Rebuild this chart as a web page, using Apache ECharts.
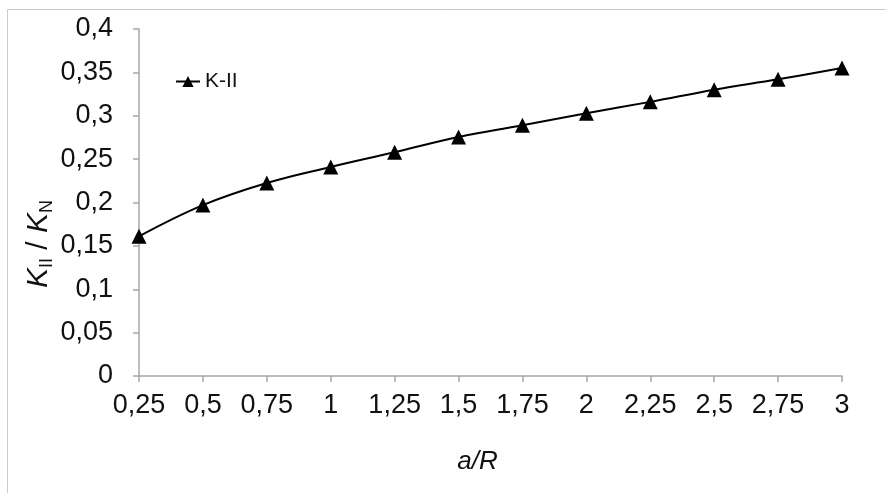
<!DOCTYPE html>
<html>
<head>
<meta charset="utf-8">
<script src="https://cdn.jsdelivr.net/npm/echarts@6/dist/echarts.min.js"></script>
<style>
html,body{margin:0;padding:0;background:#fff;}
#chart{width:886px;height:493px;}
</style>
</head>
<body>
<div id="chart"></div>
<script>
var categories = [0.25, 0.5, 0.75, 1, 1.25, 1.5, 1.75, 2, 2.25, 2.5, 2.75, 3];
var xLabels = ['0,25', '0,5', '0,75', '1', '1,25', '1,5', '1,75', '2', '2,25', '2,5', '2,75', '3'];
var kII = [0.161, 0.197, 0.2225, 0.241, 0.258, 0.2755, 0.289, 0.303, 0.316, 0.330, 0.342, 0.355];
var yTicks = [0, 0.05, 0.1, 0.15, 0.2, 0.25, 0.3, 0.35, 0.4];
var seriesName = 'K-II';

var FONT = 'Liberation Sans, Arial, sans-serif';
var chart = echarts.init(document.getElementById('chart'));
chart.setOption({
  backgroundColor: '#fff',
  animation: false,
  grid: { left: 139, right: 44, top: 29, bottom: 117 },
  legend: {
    left: 170, top: 66,
    itemWidth: 24, itemHeight: 14, itemGap: 4,
    textStyle: { fontFamily: FONT, fontSize: 21, color: '#111' },
    data: [seriesName]
  },
  xAxis: {
    type: 'category',
    boundaryGap: false,
    data: xLabels,
    axisLine: { lineStyle: { color: '#a6a6a6', width: 1.5 } },
    axisTick: { show: true, length: 6, lineStyle: { color: '#a6a6a6', width: 1.5 } },
    axisLabel: { fontFamily: FONT, fontSize: 27, color: '#111', margin: 16, interval: 0 },
    splitLine: { show: false },
    name: 'a/R',
    nameLocation: 'middle',
    nameGap: 73,
    nameTextStyle: { fontFamily: FONT, fontSize: 26, fontStyle: 'italic', color: '#111', padding: [0, 26, 0, 0] }
  },
  yAxis: {
    type: 'value',
    min: yTicks[0], max: yTicks[yTicks.length - 1], interval: 0.05,
    axisLine: { show: true, lineStyle: { color: '#a6a6a6', width: 1.5 } },
    axisTick: { show: true, length: 6, lineStyle: { color: '#a6a6a6', width: 1.5 } },
    axisLabel: {
      fontFamily: FONT, fontSize: 27, color: '#111', margin: 26,
      formatter: function (v) { return String(Math.round(v * 100) / 100).replace('.', ','); }
    },
    splitLine: { show: false }
  },
  graphic: [
    {
      type: 'rect', left: 5, top: 7, silent: true,
      shape: { width: 900, height: 520 },
      style: { fill: 'none', stroke: '#cccccc', lineWidth: 1 }
    },
    {
      type: 'text',
      x: 39, y: 244,
      rotation: Math.PI / 2,
      style: {
        text: '{k|K}{s|II}{n| / }{k|K}{s|N}',
        fontFamily: FONT,
        align: 'center', verticalAlign: 'middle',
        fill: '#111',
        rich: {
          k: { fontFamily: FONT, fontSize: 30, fontStyle: 'italic', fill: '#111' },
          n: { fontFamily: FONT, fontSize: 30, fill: '#111' },
          s: { fontFamily: FONT, fontSize: 18, fill: '#111', padding: [16, 0, 0, 0] }
        }
      }
    }
  ],
  series: [{
    name: seriesName,
    type: 'line',
    data: kII,
    smooth: 0.4,
    symbol: 'triangle',
    symbolSize: 15,
    lineStyle: { color: '#000', width: 2 },
    itemStyle: { color: '#000' }
  }]
});
</script>
</body>
</html>
